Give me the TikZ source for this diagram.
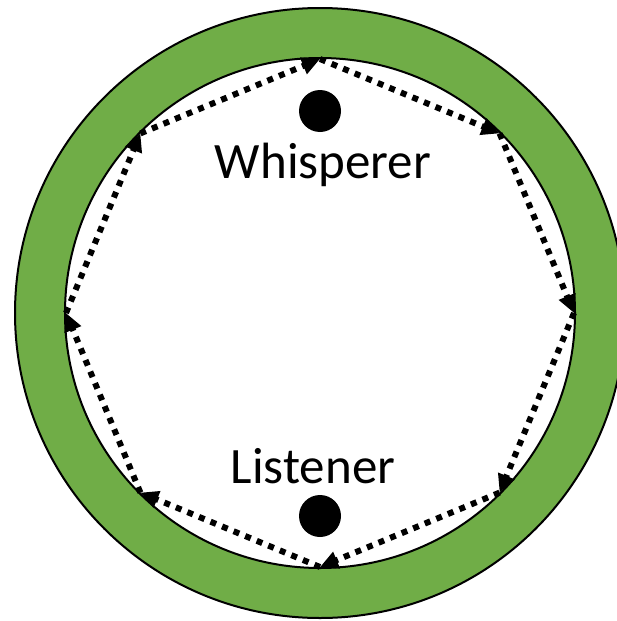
\documentclass[tikz,border=0pt]{standalone}
\usepackage{fontspec}
\setmainfont{Carlito}
\usetikzlibrary{arrows.meta}
\definecolor{ringgreen}{HTML}{70AD47}
\tikzset{
  ring/.style={fill=ringgreen, even odd rule, draw=black, line width=2pt},
  hop/.style={draw=black, line width=6pt, dash pattern=on 6pt off 6.5pt, -{Triangle[length=18pt,width=17pt]}},
  person/.style={circle, fill=black, minimum size=42pt, inner sep=0pt},
  lbl/.style={font=\fontsize{51}{60}\selectfont, inner sep=0pt, anchor=base}
}
\begin{document}
\begin{tikzpicture}[x=1pt,y=-1pt]
\useasboundingbox (0,0) rectangle (617,621);
\clip (0,0) rectangle (617,621);
\coordinate (c) at (320,313);
\path[ring] (c) circle[radius=305pt] (c) circle[radius=255pt];
\coordinate (v0) at (320,59);
\coordinate (v1) at (499.6,133.4);
\coordinate (v2) at (574,313);
\coordinate (v3) at (499.6,492.6);
\coordinate (v4) at (320,567);
\coordinate (v5) at (140.4,492.6);
\coordinate (v6) at (66,313);
\coordinate (v7) at (140.4,133.4);
\foreach \a/\b in {v0/v1,v1/v2,v2/v3,v3/v4,v4/v5,v5/v6,v6/v7,v7/v0}{
  \draw[hop] (\a) -- (\b);
}
\node[person] (whisperer) at (320,111) {};
\node[person] (listener) at (320,516) {};
\node[lbl] (wtext) at (323,178) {Whisperer};
\node[lbl] (ltext) at (313,483) {Listener};
\end{tikzpicture}
\end{document}
